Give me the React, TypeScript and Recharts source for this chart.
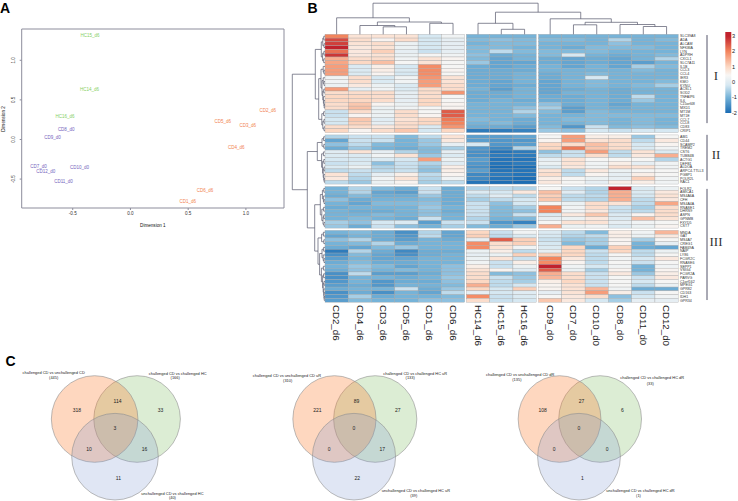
import React from 'react';
import {
    BarChart,
    Bar,
    ReferenceArea,
    Scatter,
    ScatterChart,
    XAxis,
    YAxis,
} from 'recharts';

// Panel A: MDS positions
const mdsCD6 = [
    { name: 'CD2_d6', x: 1.19, y: 0.372 },
    { name: 'CD5_d6', x: 0.8, y: 0.234 },
    { name: 'CD3_d6', x: 1.017, y: 0.179 },
    { name: 'CD4_d6', x: 0.916, y: -0.104 },
    { name: 'CD6_d6', x: 0.645, y: -0.646 },
    { name: 'CD1_d6', x: 0.497, y: -0.785 },
];
const mdsHC = [
    { name: 'HC15_d6', x: -0.35, y: 1.31 },
    { name: 'HC14_d6', x: -0.355, y: 0.63 },
    { name: 'HC16_d6', x: -0.566, y: 0.297 },
];
const mdsCD0 = [
    { name: 'CD8_d0', x: -0.557, y: 0.124 },
    { name: 'CD9_d0', x: -0.676, y: 0.028 },
    { name: 'CD7_d0', x: -0.797, y: -0.338 },
    { name: 'CD12_d0', x: -0.733, y: -0.398 },
    { name: 'CD10_d0', x: -0.442, y: -0.351 },
    { name: 'CD11_d0', x: -0.58, y: -0.533 },
];
const mdsTicksX = [-0.5, 0, 0.5, 1];
const mdsTicksY = [-0.5, 0, 0.5, 1];

// Panel B: heatmap
const columns = [
    'CD2_d6', 'CD4_d6', 'CD3_d6', 'CD5_d6', 'CD1_d6', 'CD6_d6',
    'HC14_d6', 'HC15_d6', 'HC16_d6',
    'CD9_d0', 'CD7_d0', 'CD10_d0', 'CD8_d0', 'CD11_d0', 'CD12_d0',
];
const genes = [
    'SLC39A8', 'ADA', 'ALCAM', 'NFKBIA', 'LYN', 'ADPRH', 'CXCL1', 'SLC7A11', 'IL1B', 'CCL3', 'CCL4', 'IER3', 'KMO',
    'KYNU', 'ACSL1', 'SOD2', 'TNFAIP6', 'IL6', 'C15orf48', 'MXD1', 'MT1M', 'MT1E', 'CCL7', 'CCL8', 'CD83', 'CRIP1',
    'ABI1', 'CD44', 'SCAMP2', 'TREM2', 'CST6', 'TUBB4B', 'ACTG1', 'DEFB1', 'ALDOA', 'ARPC4-TTLL3', 'PGBP1', 'POLR2L', 'RAC1',
    'FOLR2', 'AMICA1', 'MS4A6A', 'CFH', 'MS4A4A', 'RNASE1', 'DHRS9', 'ASPN', 'GPNMB', 'FXYD5', 'CST7',
    'MNDA', 'GAT', 'MS4A7', 'CREG1', 'FAM49A', 'NAIP', 'LY86', 'FCGR2C', 'RNASE6', 'SEPP1', 'VSIG4', 'FCGR2A', 'PARVG',
    'C1orf162', 'MPEG1', 'GPR82', 'CD163', 'IDH1', 'GPR34',
];
const clusterI = [
    [2.0, 0.8, 0.8, 0.8, -0.2, 0.3, -1, -1, -1, -1, -1, -1, -1, -1, -1],
    [2.6, 0.9, 0.5, 0.9, -0.2, 0.1, -0.9, -0.8, -0.9, -0.9, -0.9, -1, -0.5, -1, -0.9],
    [2.7, 0.8, 0.9, 0.2, -0.2, 0.1, -1, -0.9, -0.9, -1, -1, -1, -0.8, -1, -1],
    [3.0, 0.7, 0.8, 0.2, -0.2, 0.1, -0.9, -0.9, -1, -1, -1.1, -0.9, -0.9, -0.9, -1],
    [2.2, 0.7, 1.1, 0.1, -0.3, 0.1, -0.9, -0.4, -0.9, -0.9, -0.9, -0.9, -1, -1, -1],
    [2.8, 0.7, 0.8, 0.2, 0.4, 0.3, -0.8, -1.1, -1, -0.9, -0.2, -1, -1.1, -1, -0.9],
    [1.5, 0.9, 0.9, 0.3, 0.8, 0.5, -0.9, -1.2, -1, -1.1, -1.2, -1.1, -1.2, -1, -0.5],
    [1.6, 1.0, 1.3, 0.4, 0.8, 0.4, -0.7, -1.2, -1.2, -1.1, -1.2, -1.1, -1.2, -1.3, -1],
    [1.7, -0.1, 0.6, -0.2, 1.9, 0.4, -1.1, -1.2, -1.1, -1, -1.2, -1, -1.2, -0.6, -0.9],
    [1.7, -0.1, 0.6, -0.1, 1.9, 0.5, -1.1, -1.1, -1.1, -1, -1, -1, -1, -0.9, -1],
    [1.7, -0.1, 0.5, -0.2, 1.9, 0.4, -1.1, -1.1, -1, -1.1, -1, -0.9, -1, -1, -1],
    [0.3, 0.9, -0.2, 0.3, 1.8, 0.8, -1.1, -1.1, -1, -1.1, -1, -0.2, -1, -1, -1],
    [0.3, 0.9, -0.1, 0.3, 1.7, 0.8, -1.1, -1.2, -1, -1.2, -1, -0.9, -1, -1, -0.9],
    [0.2, 0.7, 0.2, -0.1, 1.7, 0.9, -1.1, -1.2, -1.1, -1.2, -1, -0.9, -1, -0.9, -0.6],
    [1.7, 0.1, 0.3, -0.1, 0.9, 0.9, -1, -1.3, -1, -1.2, -1.1, -1, -1.1, -1, -1],
    [0.9, 0.9, 0.9, 0.1, 0.9, 1.8, -1.1, -1.1, -1, -1.2, -1, -1, -1.1, -1, -1],
    [1.0, 1.0, 0.9, 0.1, 0.9, 0.4, -1.1, -1.1, -1, -1.1, -1.1, -1, -1.1, -0.4, -1],
    [1.0, 1.0, 0.9, 0.1, 1.0, 0.4, -1.1, -1, -1.1, -1.1, -1.1, -1, -1.1, -0.7, -1],
    [0.9, 1.2, 0.5, 0.2, 1.0, 0.5, -1, -1, -1, -0.8, -1.1, -1, -1.2, -1, -1],
    [0.9, 1.3, 0.2, 0.3, 0.4, 0.5, -1, -1, -0.8, -0.6, -1.3, -1, -1.1, -1, -1],
    [-0.3, 0.9, 0.2, 0.9, 0.4, 2.4, -1, -1, -0.5, -0.9, -1.3, -0.9, -1, -1, -1],
    [-0.3, 0.5, 0.2, 0.9, 0.5, 2.4, -1, -1, -0.9, -1, -1, -0.9, -0.9, -0.9, -0.9],
    [-0.2, 1.2, 0.0, 0.8, 1.0, 2.1, -0.9, -1, -1.1, -1, -0.9, -0.9, -1, -0.9, -1],
    [-0.2, 1.1, 0.1, 0.9, 1.0, 2.0, -1, -0.9, -1.1, -1, -1, -0.9, -1, -0.9, -1],
    [0.9, 0.9, 0.7, 0.9, -0.1, 1.8, -1.1, -1.1, -1.3, -0.9, -1.4, -0.3, -0.9, -0.8, -0.9],
    [1.0, 0.5, 0.9, 1.2, -0.2, 1.0, -1.8, -1.8, -1.7, -0.7, -0.8, -0.2, -0.3, -0.2, -0.2],
];
const clusterII = [
    [-0.5, -0.3, -0.3, -0.9, -0.4, 0.8, -1.3, -1.3, -1.2, 0.4, 1.7, 0.6, 0.6, -0.7, 0.4],
    [-1.2, -0.3, -0.3, -1, -0.7, 0.7, -1.3, -1.4, -1.4, 0.5, 1.7, 0.8, 0.9, -0.4, 0.7],
    [-0.8, -0.4, -0.9, -1, -0.7, 0.1, -0.2, -1.4, -1.3, 1.0, 0.9, 1.3, 0.9, -0.2, 0.5],
    [-1.1, -0.7, -1, -1.1, -0.9, -0.6, -1.4, -1.6, -0.5, 1.0, 2.1, 1.2, 0.9, -0.1, 0.3],
    [0.0, 0.8, 0.1, -0.5, -0.9, 0.1, -1.5, -1.9, -1.8, -0.8, -0.3, 1.7, -0.4, 0.8, -0.1],
    [-0.1, -0.1, 0.3, 0.8, -0.7, -0.1, -1.5, -1.8, -1.8, -0.4, -0.3, 0.9, -0.4, 0.7, 1.5],
    [-0.2, -0.2, -0.1, -0.2, 1.7, 0.2, -1.3, -1.9, -1.9, 0.1, 0.8, 0.4, 0.4, 0.4, -0.5],
    [-0.3, -0.1, -0.8, -0.3, -0.5, 0.0, -1.4, -1.9, -1.8, 0.2, 0.8, 0.3, 0.6, 0.1, 0.3],
    [-0.1, 0.2, -0.5, -0.3, -0.7, 0.6, -1.5, -2, -2, -0.1, 0.7, 0.3, 0.9, 0.8, 0.3],
    [-0.4, -0.3, -0.4, -0.3, -0.8, 0.6, -1.3, -1.9, -1.9, 0.8, -0.4, 0.7, 0.2, 0.4, 0.4],
    [0.8, -0.4, 0.1, 0.6, -0.4, 0.5, -1.6, -1.8, -1.9, 0.9, -0.4, 0.5, 0.1, 0.6, 0.4],
    [0.7, -0.5, 0.3, 0.8, -0.5, 0.3, -1.6, -1.9, -2, 0.6, 0.4, 0.2, 0.1, 1.1, 0.3],
    [-0.4, -0.7, 0.2, 0.5, -0.6, -0.4, -1.9, -2, -2, 0.7, 0.4, 0.1, 0.6, 0.6, 0.3],
];
const clusterIIIa = [
    [-1, -0.5, -0.9, -1.1, -0.3, -1.1, -0.5, -0.4, -0.5, 0.4, -0.3, -0.5, 3, -0.1, 0.2],
    [-1, -0.5, -1.2, -1.3, -0.3, -1.1, -0.1, -0.2, 0.7, 1.3, 0.0, -0.5, 1.5, -0.1, 0.7],
    [-1.1, -0.9, -1.1, -1.1, -0.7, -1.1, -0.4, 0.0, -0.4, 1.1, -0.4, -0.4, 1.5, -0.2, 0.8],
    [-0.8, -1.1, -1, -1, -0.9, -1.1, -0.6, -0.4, -0.2, 1.2, -0.4, -0.5, 1.5, -0.4, 0.7],
    [-1, -1.2, -0.9, -0.9, -0.8, -1.1, -0.3, -0.8, -0.2, 0.4, 0.2, 0.9, 0.8, -0.4, 1.6],
    [-1.1, -1, -1, -1, -0.7, -1, -0.3, -0.9, -0.6, 2.0, 0.3, 0.9, -0.3, -0.6, 0.9],
    [-1, -1.1, -1.1, -1, -0.8, -1.1, -0.3, -0.9, -0.8, 2.0, 0.3, 0.7, -0.3, -0.4, 0.9],
    [-1, -1, -0.9, -1, -0.8, -1, -0.3, -0.9, -0.3, -0.1, 0.7, 1.2, -0.1, 0.5, 0.9],
    [-1, -0.9, -1, -1.1, -0.3, -1, -0.5, -1, -0.9, 0.1, 0.2, 0.7, -0.1, 1.3, 0.8],
    [-0.6, -0.8, -0.2, -0.1, -1.3, -0.3, -0.3, -1.4, -1.7, 0.4, 0.8, 0.8, 0.1, 0.3, 0.4],
    [-0.7, -1.1, -0.3, -0.8, -1, -0.6, -0.9, -1.1, -0.7, 1.5, 0.2, 0.3, -0.1, 0.2, 0.5],
];
const clusterIIIb = [
    [-1, -0.9, -1.1, -1.5, -0.5, -1.2, 1.0, -0.3, 0.3, -0.1, -0.4, -0.9, 0.6, 0.3, 1.4],
    [-1.2, -1, -1.1, -1.4, -0.4, -1.2, 1.1, -0.4, -0.1, -0.2, -0.5, -0.4, 0.6, 0.2, 0.7],
    [-0.8, -0.5, -1.1, -1.3, -1, -1.1, 0.1, 2.4, 1.1, -0.3, -0.7, -0.6, 0.5, -0.6, 0.4],
    [-1, -0.9, -0.5, -1.1, -1, -1, 1.9, 0.9, 1.1, -0.2, -0.9, -0.6, 0.5, -1, 0.1],
    [-1.1, -1.2, -0.9, -0.7, -1, -1, 1.9, 0.8, 0.3, -0.1, 1.0, -1.1, 1.1, -1.1, -1.2],
    [-1.8, -0.5, -1.1, -1.6, -1.1, -1.1, 0.2, 0.6, -0.4, 0.1, 1.0, -0.3, 1.0, -0.4, 0.2],
    [-1.5, -0.9, -1.2, -1.5, -1.1, -1, 0.1, 0.2, 1.1, 1.1, 1.0, -0.4, 0.4, -0.4, 0.4],
    [-1.3, -1, -1.2, -1.2, -1, -1, 0.2, 0.8, -0.3, 2.0, 0.7, -0.4, 0.3, -0.2, 0.7],
    [-1.1, -0.9, -1.1, -1.1, -1, -1, 0.3, -0.3, 0.6, 1.9, 0.5, -0.4, 0.4, -0.3, 0.4],
    [-1, -0.7, -0.9, -1.2, -1, -0.8, 0.6, -0.3, 0.2, 3.0, 0.3, -0.2, 0.3, -1, 0.3],
    [-1.1, -0.8, -1, -0.9, -1, -0.8, 0.8, 0.5, 0.0, 2.4, 0.2, -0.6, 0.5, -1, 0.5],
    [-1.5, -0.4, -1.3, -1.3, -1.1, -0.8, 0.9, -0.9, -0.8, 1.5, 0.9, -0.3, 0.7, -0.7, 0.6],
    [-1.5, -1, -1, -1.1, -1, -0.7, 0.9, -0.3, -0.7, 1.4, 0.9, -0.3, 0.4, -0.3, 0.7],
    [-1.4, -1, -1.4, -1.1, -1.1, -0.8, 1.0, -0.4, -0.6, 0.6, 1.0, -0.3, 0.4, -0.2, 0.4],
    [-1.3, -1.1, -1.4, -1, -1, -0.9, 1.5, -0.4, -0.2, 0.5, 0.8, -0.3, 0.4, -0.4, 0.2],
    [-1.1, -1, -1, -0.3, -1.1, -0.7, 1.0, -0.2, 1.1, 0.5, 0.8, 1.4, 0.3, -1.1, -1.1],
    [-1.5, -1.1, -1.5, -1, -1.2, -0.4, 0.1, -0.2, 0.0, 0.1, 0.8, 1.7, 0.6, -0.3, 0.4],
    [-1.4, -0.6, -1.1, -1, -1, -0.9, 1.9, -0.3, -0.1, 0.4, 0.7, 0.9, -0.8, -0.2, 0.3],
    [-1.3, -0.9, -1, -1, -0.8, -0.8, 0.9, -0.3, -0.2, 1.2, 0.7, -0.2, -0.6, 0.1, 0.1],
];
const heatRows = [...clusterI, ...clusterII, ...clusterIIIa, ...clusterIIIb];

// dendrograms as [height, left, right], leaves are column / row indexes
const colTree: any = [31.1,
    [16.5, 0, [12.3, [8.8, 1, [7.5, 2, 3]], [11, 4, 5]]],
    [22.1, [11, 6, [5, 7, 8]], [15.5, 9, [12, [9.5, 10, 11], [9.8, 12, [7.8, 13, 14]]]]],
];
const rowTree: any = [32.7,
    [9.7,
        [3.7,
            [2.2, [1.2, 0, 1], [1, 2, 3]],
            [2.4, [1.1, 4, 5], [1.3, 6, 7]],
        ],
        [6.3,
            [4, [1.8, 8, [1, 9, 10]], [3, [1.8, 11, [1, 12, 13]], [2.2, [1.2, 14, 15], [1.6, 16, [1, 17, [0.8, 18, 19]]]]]],
            [3.2, [1.4, 20, 21], [2.2, [1, 22, 23], [1, 24, 25]]],
        ],
    ],
    [17.7,
        [7.7,
            [3, [1.4, 26, 27], [1.2, 28, 29]],
            [3.4, [1.6, 30, 31], [2.4, [1.2, 32, 33], [1.8, [1, 34, 35], [1.2, 36, [0.8, 37, 38]]]]],
        ],
        [10.3,
            [4.7,
                [2.6, [1.2, 39, 40], [1.6, 41, [1, 42, 43]]],
                [3.2, [1.4, 44, 45], [2, [1.2, 46, 47], [1, 48, 49]]],
            ],
            [7,
                [3.4, [1.6, 50, 51], [1.2, 52, 53]],
                [5.4,
                    [3, [1.4, 54, 55], [1.8, 56, [1, 57, 58]]],
                    [3.6, [1.6, 59, 60], [2.4, [1.4, 61, 62], [1.8, [1, 63, 64], [1.2, 65, [1, 66, [0.8, 67, 68]]]]]],
                ],
            ],
        ],
    ],
];
const rowBlocks = [
    { label: 'I', from: 0.2, to: 23.5, at: 10.8 },
    { label: 'II', from: 26.6, to: 38.7, at: 31.7 },
    { label: 'III', from: 40.9, to: 70.3, at: 54.9 },
];

// Panel B: colour key
const heatStops = [-2, -1, -0.2, 0.45, 1, 2, 3];
const heatColors = ['#1c6db4', '#76b3d8', '#d6e8f2', '#f8f6f4', '#fcd8c3', '#f3845c', '#c1222d'];
const keyRange = [-2.02, 3.27];
const keyTicks = [-2, -1, 0, 1, 2, 3];

// Panel C: Venn regions
const regionNames = ['a', 'ab', 'b', 'abc', 'ac', 'bc', 'c'];
const vennCounts = [
    [318, 114, 33, 3, 10, 16, 11],
    [221, 89, 27, 0, 0, 17, 22],
    [108, 27, 6, 0, 0, 0, 1],
];
const vennTitles = [
    ['challenged CD vs unchallenged CD', 'challenged CD vs challenged HC', 'unchallenged CD vs challenged HC'],
    ['challenged CD vs unchallenged CD uR', 'challenged CD vs challenged HC uR', 'unchallenged CD vs challenged HC uR'],
    ['challenged CD vs unchallenged CD dR', 'challenged CD vs challenged HC dR', 'unchallenged CD vs challenged HC dR'],
];
const vennTotals = [
    [445, 166, 40],
    [310, 133, 39],
    [135, 33, 1],
];

// layout constants, px of the 738x501 page
const CELL_W = 23.28;
const CELL_H = 3.78;
const HEAT_LEFT = 325;
const HEAT_TOP = 34.3;
const PLOT_LEFT = 288;
const PLOT_RIGHT = 722;
const ROWS_SPAN = 70.9;
const LINE = '#55566a';

const toColX = (px: number) => (px - HEAT_LEFT) / CELL_W;
const colPos = (j: number) => j + 0.5 + (j >= 6 ? 0.073 : 0) + (j >= 9 ? 0.1 : 0);
const rowPos = (i: number) => i + 0.5 + (i >= 26 ? 0.62 : 0) + (i >= 39 ? 0.65 : 0) + (i >= 50 ? 0.6 : 0);

const heatColor = (v: number) => {
    const val = Math.max(heatStops[0], Math.min(heatStops[heatStops.length - 1], v));
    let k = 0;
    while (k < heatStops.length - 2 && val > heatStops[k + 1]) k++;
    const t = (val - heatStops[k]) / (heatStops[k + 1] - heatStops[k]);
    const a = heatColors[k];
    const b = heatColors[k + 1];
    const mix = (p: number) => {
        const ca = parseInt(a.slice(p, p + 2), 16);
        const cb = parseInt(b.slice(p, p + 2), 16);
        return Math.round(ca + (cb - ca) * t);
    };
    return `rgb(${mix(1)},${mix(3)},${mix(5)})`;
};

const heatCells = heatRows.flatMap((row, i) =>
    row.map((v, j) => ({ x: colPos(j), y: rowPos(i), v }))
);

// turn a nested tree into polylines: leaf height 0, parent centred over its two children
const treeLines = (tree: any, leaf: (n: number) => number) => {
    const lines: { a: number; h: number }[][] = [];
    const walk = (node: any): { a: number; h: number } => {
        if (typeof node === 'number') return { a: leaf(node), h: 0 };
        const l = walk(node[1]);
        const r = walk(node[2]);
        lines.push([l, { a: l.a, h: node[0] }, { a: r.a, h: node[0] }, r]);
        return { a: (l.a + r.a) / 2, h: node[0] };
    };
    walk(tree);
    return lines;
};
const colLines = treeLines(colTree, colPos).map((ln) =>
    ln.map((p) => ({ x: p.a, y: -p.h / CELL_H }))
);
const rowLines = treeLines(rowTree, rowPos).map((ln) =>
    ln.map((p) => ({ x: -p.h / CELL_W, y: p.a }))
);

const noDot = () => null;

const CellShape = (props: any) => (
    <rect
        x={props.cx - CELL_W / 2}
        y={props.cy - CELL_H / 2}
        width={CELL_W}
        height={CELL_H}
        fill={heatColor(props.payload.v)}
        stroke="#a3a3a3"
        strokeWidth={0.35}
    />
);

const NameText = (props: any) => (
    <text x={props.cx} y={props.cy} dy={1.6} textAnchor="middle" fontSize={4.5} fontFamily="Liberation Sans" fill={props.fill}>
        {props.payload.name}
    </text>
);

const GeneText = (props: any) => (
    <text x={props.cx} y={props.cy} dy={1.25} fontSize={3.6} fontFamily="Liberation Sans" fill="#333">
        {props.payload.name}
    </text>
);

const BlockText = (props: any) => (
    <text x={props.cx} y={props.cy} dy={4.4} textAnchor="middle" fontSize={13} fontFamily="Liberation Serif" fill="#333">
        {props.payload.label}
    </text>
);

const ColumnTick = (props: any) => {
    const name = columns[props.index];
    return (
        <text
            x={props.x}
            y={305}
            transform={`rotate(90 ${props.x} 305)`}
            dy={3.4}
            fontSize={9.7}
            fontFamily="Liberation Sans"
            fill="#222"
        >
            {name}
        </text>
    );
};

const MdsTickY = (props: any) => (
    <text
        x={13.3}
        y={props.y}
        transform={`rotate(-90 13.3 ${props.y})`}
        dy={1.6}
        textAnchor="middle"
        fontSize={4.6}
        fontFamily="Liberation Sans"
        fill="#333"
    >
        {props.payload.value.toFixed(1)}
    </text>
);

const MdsPanel = () => (
    <ScatterChart width={290} height={240} margin={{ top: 29, right: 6, bottom: 12, left: 0 }}>
        <XAxis
            type="number"
            dataKey="x"
            domain={[-0.942, 1.33]}
            ticks={mdsTicksX}
            height={20}
            axisLine={false}
            tickSize={2}
            tickLine={{ stroke: '#8d8d9c' }}
            tick={{ fontSize: 4.6, fontFamily: 'Liberation Sans', fill: '#333' }}
            tickFormatter={(v: number) => v.toFixed(1)}
            label={{ value: 'Dimension 1', position: 'insideBottom', offset: 1, fontSize: 4.6, fontFamily: 'Liberation Sans', fill: '#111' }}
        />
        <YAxis
            type="number"
            dataKey="y"
            domain={[-0.865, 1.395]}
            ticks={mdsTicksY}
            width={21.7}
            axisLine={false}
            tickSize={2}
            tickLine={{ stroke: '#8d8d9c' }}
            tick={<MdsTickY />}
        />
        <ReferenceArea x1={-0.942} x2={1.33} y1={-0.865} y2={1.395} fill="none" stroke="#8d8d9c" strokeWidth={1} />
        <text
            x={3}
            y={119}
            transform="rotate(-90 3 119)"
            dy={1.6}
            textAnchor="middle"
            fontSize={4.6}
            fontFamily="Liberation Sans"
            fill="#111"
        >
            Dimension 2
        </text>
        <Scatter data={mdsCD6} fill="#f17f4f" shape={<NameText />} isAnimationActive={false} />
        <Scatter data={mdsHC} fill="#86cf63" shape={<NameText />} isAnimationActive={false} />
        <Scatter data={mdsCD0} fill="#7464bd" shape={<NameText />} isAnimationActive={false} />
    </ScatterChart>
);

const geneRows = genes.map((name, i) => ({ name, x: toColX(680), y: rowPos(i) }));
const colTicks = columns.map((_, j) => colPos(j));

const HeatPanel = () => (
    <ScatterChart width={738} height={360} margin={{ top: 0, right: 738 - PLOT_RIGHT, bottom: 10.7, left: PLOT_LEFT }}>
        <XAxis
            type="number"
            dataKey="x"
            domain={[toColX(PLOT_LEFT), toColX(PLOT_RIGHT)]}
            ticks={colTicks}
            interval={0}
            height={47}
            axisLine={false}
            tickLine={false}
            tick={<ColumnTick />}
        />
        <YAxis type="number" dataKey="y" domain={[-HEAT_TOP / CELL_H, ROWS_SPAN]} reversed hide />
        <Scatter data={heatCells} shape={<CellShape />} isAnimationActive={false} />
        {colLines.map((pts, n) => (
            <Scatter key={`c${n}`} data={pts} shape={noDot} line={{ stroke: LINE, strokeWidth: 0.7 }} isAnimationActive={false} />
        ))}
        {rowLines.map((pts, n) => (
            <Scatter key={`r${n}`} data={pts} shape={noDot} line={{ stroke: LINE, strokeWidth: 0.7 }} isAnimationActive={false} />
        ))}
        <Scatter data={geneRows} shape={<GeneText />} isAnimationActive={false} />
        {rowBlocks.map((b) => (
            <Scatter
                key={b.label}
                data={[{ x: toColX(707), y: b.from }, { x: toColX(707), y: b.to }]}
                shape={noDot}
                line={{ stroke: '#55556a', strokeWidth: 1 }}
                isAnimationActive={false}
            />
        ))}
        <Scatter
            data={rowBlocks.map((b) => ({ label: b.label, x: toColX(716), y: b.at }))}
            shape={<BlockText />}
            isAnimationActive={false}
        />
    </ScatterChart>
);

const ColorKey = () => (
    <BarChart
        width={18}
        height={125}
        data={[{ name: 'key', range: keyRange }]}
        margin={{ top: 32, right: 0, bottom: 12, left: 5.3 }}
        barCategoryGap={0}
    >
        <defs>
            <linearGradient id="heatKey" x1="0" y1="1" x2="0" y2="0">
                {heatStops.map((s, i) => (
                    <stop
                        key={s}
                        offset={`${((s - keyRange[0]) / (keyRange[1] - keyRange[0])) * 100}%`}
                        stopColor={heatColors[i]}
                    />
                ))}
            </linearGradient>
        </defs>
        <XAxis dataKey="name" hide />
        <YAxis
            orientation="right"
            type="number"
            domain={keyRange}
            ticks={keyTicks}
            width={7}
            axisLine={false}
            tickLine={false}
            tickSize={0}
            tickMargin={1}
            tick={{ fontSize: 5.6, fontFamily: 'Liberation Sans', fill: '#222', textAnchor: 'start' }}
        />
        <Bar dataKey="range" fill="url(#heatKey)" isAnimationActive={false} />
    </BarChart>
);

// venn layout in circle radii, origin between the two upper circles and above the lower one
const vennSets = [
    { x: 0.51, y: 0, fill: '#78b85a', opacity: 0.26 },
    { x: -0.47, y: 0, fill: '#fb7b2c', opacity: 0.3 },
    { x: 0, y: -0.87, fill: '#7d97d2', opacity: 0.24 },
];
const regionAt = [
    { x: -0.88, y: 0.21 },
    { x: 0.06, y: 0.42 },
    { x: 1.05, y: 0.21 },
    { x: 0, y: -0.22 },
    { x: -0.6, y: -0.7 },
    { x: 0.68, y: -0.7 },
    { x: 0.08, y: -1.37 },
];

const SetShape = (props: any) => (
    <ellipse
        cx={props.cx}
        cy={props.cy}
        rx={props.rx}
        ry={43.3}
        fill={props.payload.fill}
        fillOpacity={props.payload.opacity}
        stroke="#8f8f8f"
        strokeWidth={0.6}
    />
);

const CountText = (props: any) => (
    <text x={props.cx} y={props.cy} dy={1.8} textAnchor="middle" fontSize={5} fontFamily="Liberation Sans" fill="#222">
        {props.payload.count}
    </text>
);

const TitleText = (props: any) => (
    <text x={props.cx} y={props.cy} dy={1.4} textAnchor="middle" fontSize={3.95} fontFamily="Liberation Sans" fill="#222">
        {props.payload.text}
    </text>
);

const VENN_W = 250;
const VENN_TOP = 320;
const VENN_H = 181;
const VENN_CY = 419;

const VennPanel = ({ index, cx, rx, titleAt, totalAt }: any) => {
    const toX = (px: number) => (px - cx) / rx;
    const toY = (py: number) => (VENN_CY - py) / 43.3;
    const regions = regionNames.map((name, i) => ({
        name,
        count: vennCounts[index][i],
        x: regionAt[i].x,
        y: regionAt[i].y,
    }));
    const titles = vennTitles[index].map((text, i) => ({ text, x: toX(titleAt[i][0]), y: toY(titleAt[i][1]) }));
    const totals = vennTotals[index].map((n, i) => ({ text: `(${n})`, x: toX(totalAt[i][0]), y: toY(totalAt[i][1]) }));
    return (
        <div style={{ position: 'absolute', left: cx - VENN_W / 2, top: VENN_TOP }}>
            <ScatterChart width={VENN_W} height={VENN_H} margin={{ top: 0, right: 0, bottom: 0, left: 0 }}>
                <XAxis type="number" dataKey="x" domain={[-VENN_W / 2 / rx, VENN_W / 2 / rx]} hide />
                <YAxis type="number" dataKey="y" domain={[toY(VENN_TOP + VENN_H), toY(VENN_TOP)]} hide />
                {vennSets.map((s, i) => (
                    <Scatter key={i} data={[s]} shape={<SetShape rx={rx} />} isAnimationActive={false} />
                ))}
                <Scatter data={regions} shape={<CountText />} isAnimationActive={false} />
                <Scatter data={titles} shape={<TitleText />} isAnimationActive={false} />
                <Scatter data={totals} shape={<TitleText />} isAnimationActive={false} />
            </ScatterChart>
        </div>
    );
};

const letterStyle: React.CSSProperties = {
    position: 'absolute',
    fontFamily: 'Liberation Sans',
    fontWeight: 'bold',
    fontSize: 14,
    lineHeight: '14px',
    color: '#000',
};

export default function App() {
    return (
        <div style={{ position: 'absolute', left: 0, top: 0, width: 738, height: 501, overflow: 'hidden', background: '#fff' }}>
            <div style={{ position: 'absolute', left: 0, top: 0 }}><HeatPanel /></div>
            <div style={{ position: 'absolute', left: 0, top: 0 }}><MdsPanel /></div>
            <div style={{ position: 'absolute', left: 720, top: 0 }}><ColorKey /></div>
            <VennPanel
                index={0}
                cx={115.3}
                rx={43.3}
                titleAt={[[54, 372.7], [178, 373.7], [172.7, 493.3]]}
                totalAt={[[54, 377.7], [175.5, 378], [172.7, 498]]}
            />
            <VennPanel
                index={1}
                cx={353.8}
                rx={41.6}
                titleAt={[[286.7, 375.7], [415, 373.3], [415.7, 490.3]]}
                totalAt={[[287.5, 380.3], [410, 377.7], [413.5, 495.7]]}
            />
            <VennPanel
                index={2}
                cx={578.8}
                rx={41.4}
                titleAt={[[520, 374.3], [652, 378], [640.3, 490.3]]}
                totalAt={[[516.7, 380], [650, 383.7], [638.3, 495.7]]}
            />
            <div style={{ ...letterStyle, left: 0, top: 1 }}>A</div>
            <div style={{ ...letterStyle, left: 307.5, top: 1 }}>B</div>
            <div style={{ ...letterStyle, left: 5.5, top: 354 }}>C</div>
        </div>
    );
}
